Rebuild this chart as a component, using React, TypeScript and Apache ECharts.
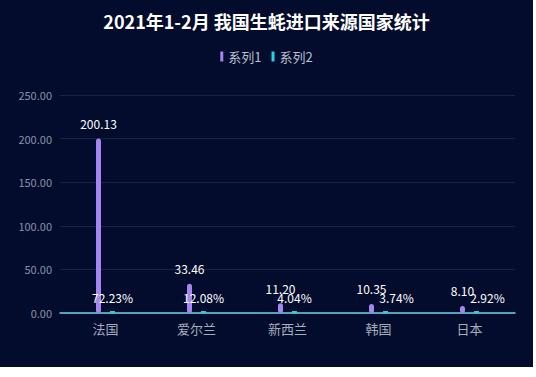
import React, { useEffect, useRef } from "react";
import * as echarts from "echarts";

const titleText = "2021年1-2月 我国生蚝进口来源国家统计";
const categories = ["法国", "爱尔兰", "新西兰", "韩国", "日本"];
const series1Name = "系列1";
const series2Name = "系列2";
const series1Values = [200.13, 33.46, 11.2, 10.35, 8.1];
const series2Shares = [0.7223, 0.1208, 0.0404, 0.0374, 0.0292];

const FONT = "'Noto Sans CJK SC', 'Noto Sans', sans-serif";

export default function App() {
  const ref = useRef<HTMLDivElement>(null);
  useEffect(() => {
    document.body.style.margin = "0";
    const chart = echarts.init(ref.current!, null, { renderer: "svg" });
    const shiftIdx = [3, 4];
    chart.setOption({
      animation: false,
      backgroundColor: "#030c2d",
      textStyle: { fontFamily: FONT },
      title: {
        text: titleText,
        left: "center",
        top: 7,
        textStyle: { color: "#ffffff", fontSize: 18, fontWeight: "bold", fontFamily: FONT },
      },
      legend: {
        top: 45,
        left: "center",
        icon: "rect",
        itemWidth: 3,
        itemHeight: 10,
        itemGap: 10,
        textStyle: { color: "#b8c0d0", fontSize: 13, fontFamily: FONT },
        data: [series1Name, series2Name],
      },
      grid: { left: 60, right: 18, top: 95, bottom: 54 },
      xAxis: {
        type: "category",
        data: categories,
        axisLine: { lineStyle: { color: "#6fd3e6", width: 1.5 } },
        axisTick: { show: false },
        axisLabel: { color: "#a6adbd", fontSize: 13, margin: 9, fontFamily: FONT },
      },
      yAxis: {
        type: "value",
        min: 0,
        max: 250,
        interval: 50,
        axisLine: { show: false },
        axisTick: { show: false },
        axisLabel: {
          color: "#8a92a6",
          fontSize: 11,
          margin: 8,
          formatter: (v: number) => v.toFixed(2),
        },
        splitLine: { lineStyle: { color: "#1a2242", width: 1 } },
      },
      series: [
        {
          name: series1Name,
          type: "bar",
          data: series1Values,
          barWidth: 5,
          barGap: "180%",
          itemStyle: { color: "#a685f0", borderRadius: 3 },
          label: {
            show: true,
            position: "top",
            distance: 9,
            color: "#ffffff",
            fontSize: 12,
            formatter: (p: any) => Number(p.value).toFixed(2),
          },
        },
        {
          name: series2Name,
          type: "bar",
          data: series2Shares.map((v, i) =>
            shiftIdx.includes(i) ? { value: v, label: { offset: [11, 0] } } : v
          ),
          barWidth: 5,
          barMinHeight: 2,
          itemStyle: { color: "#22d3e6" },
          label: {
            show: true,
            position: "top",
            distance: 8,
            color: "#ffffff",
            fontSize: 12,
            formatter: (p: any) => (Number(p.value) * 100).toFixed(2) + "%",
          },
        },
      ],
    });
    return () => chart.dispose();
  }, []);
  return <div ref={ref} style={{ width: 533, height: 367 }} />;
}
